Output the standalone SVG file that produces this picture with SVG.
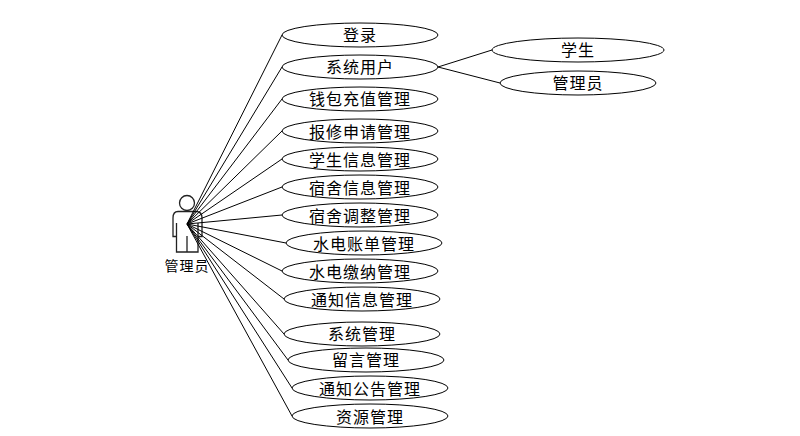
<svg xmlns="http://www.w3.org/2000/svg" width="800" height="436" viewBox="0 0 800 436">
<style>
.n{fill:#fff;stroke:#000;stroke-width:1}
.b{fill:#fff;stroke:#222;stroke-width:1.3}
.c{stroke:#000;stroke-width:1;fill:none}
text{font-family:"Noto Sans CJK SC","Liberation Sans",sans-serif;font-size:16px;text-anchor:middle;fill:#000;letter-spacing:1px}
.a{font-size:14px;letter-spacing:1px}
</style>
<rect width="800" height="436" fill="#fff"/>
<g id="actor">
<circle cx="187" cy="203" r="7.500" class="b"/>
<path d="M178 211.500H196Q202 211.500 202 218V236.500H198V252H176.500V236.500H173V218Q173 211.500 178 211.500ZM176.500 236.500V223M198 236.500V223M187 252V236" class="b"/>
<text class="a" x="187" y="271">管理员</text>
</g>
<g id="connectors">
<path class="c" d="M187 224L282 35M187 224L282 67M187 224L282 99M187 224L282 131M187 224L282 159M187 224L282 187M187 224L282 215M187 224L286 243M187 224L282 271M187 224L284 299M187 224L284 334M187 224L288 360M187 224L292 388M187 224L292 416M438 67L492 50M438 67L500 83"/>
</g>
<g id="n1"><ellipse class="n" cx="360" cy="35" rx="78" ry="12"/><text x="360" y="41">登录</text></g>
<g id="n2"><ellipse class="n" cx="360" cy="67" rx="78" ry="12"/><text x="360" y="73">系统用户</text></g>
<g id="n3"><ellipse class="n" cx="360" cy="99" rx="78" ry="12"/><text x="360" y="105">钱包充值管理</text></g>
<g id="n4"><ellipse class="n" cx="360" cy="131" rx="78" ry="12"/><text x="360" y="138">报修申请管理</text></g>
<g id="n5"><ellipse class="n" cx="360" cy="159" rx="78" ry="12"/><text x="360" y="166">学生信息管理</text></g>
<g id="n6"><ellipse class="n" cx="360" cy="187" rx="78" ry="12"/><text x="360" y="194">宿舍信息管理</text></g>
<g id="n7"><ellipse class="n" cx="360" cy="215" rx="78" ry="12"/><text x="360" y="222">宿舍调整管理</text></g>
<g id="n8"><ellipse class="n" cx="364" cy="243" rx="78" ry="12"/><text x="364" y="250">水电账单管理</text></g>
<g id="n9"><ellipse class="n" cx="360" cy="271" rx="78" ry="12"/><text x="360" y="278">水电缴纳管理</text></g>
<g id="n10"><ellipse class="n" cx="362" cy="299" rx="78" ry="12"/><text x="362" y="306">通知信息管理</text></g>
<g id="n11"><ellipse class="n" cx="362" cy="334" rx="78" ry="12"/><text x="362" y="340">系统管理</text></g>
<g id="n12"><ellipse class="n" cx="366" cy="360" rx="78" ry="12"/><text x="366" y="366">留言管理</text></g>
<g id="n13"><ellipse class="n" cx="370" cy="388" rx="78" ry="12"/><text x="370" y="395">通知公告管理</text></g>
<g id="n14"><ellipse class="n" cx="370" cy="416" rx="78" ry="12"/><text x="370" y="423">资源管理</text></g>
<g id="n15"><ellipse class="n" cx="578" cy="50" rx="86" ry="12"/><text x="578" y="56">学生</text></g>
<g id="n16"><ellipse class="n" cx="578" cy="83" rx="78" ry="12"/><text x="578" y="89">管理员</text></g>
</svg>
